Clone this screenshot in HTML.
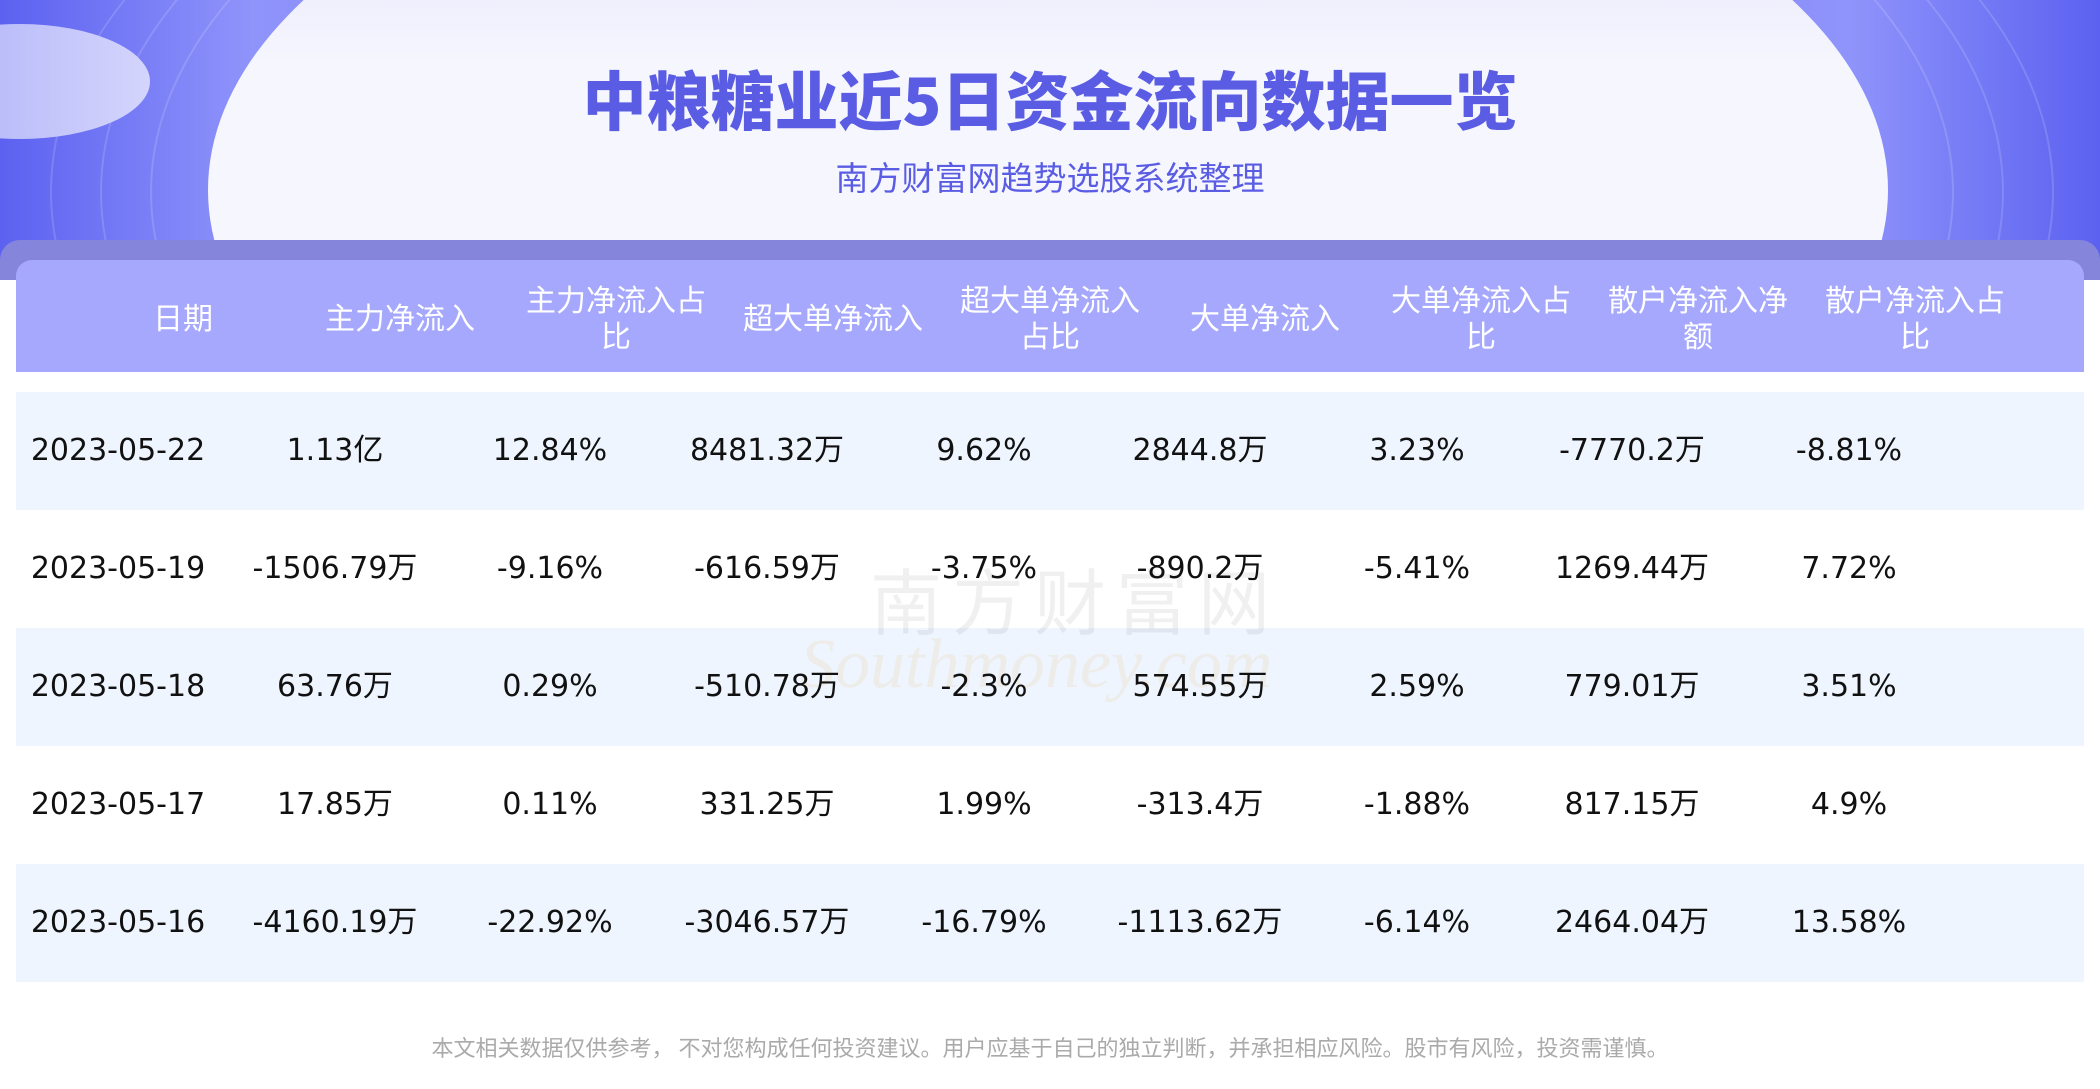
<!DOCTYPE html>
<html><head><meta charset="utf-8"><style>
body{margin:0;width:2100px;height:1089px;overflow:hidden;background:#fff;position:relative;font-family:"DejaVu Sans","Noto Sans CJK SC",sans-serif}
.top{position:absolute;left:0;top:0;width:2100px;height:262px;background:linear-gradient(90deg,#5c61f0,#8f94fb 12%,#6a6ef2 50%,#8f94fb 88%,#5c61f0);overflow:hidden}
.ring{position:absolute;border-radius:50%;border:2px solid rgba(255,255,255,.15)}
.big{position:absolute;left:208px;top:-220px;width:1680px;height:820px;border-radius:50%;background:linear-gradient(180deg,#dcdcfb,#f6f6fe 35%,#f8f8ff)}
.small{position:absolute;left:-110px;top:24px;width:260px;height:115px;border-radius:50%;background:linear-gradient(90deg,#a9acf8,#d4d5fc)}
.title{position:absolute;left:0;width:2100px;top:60px;text-align:center;font-family:"Noto Sans CJK SC",sans-serif;font-weight:900;font-size:64px;color:#5a5de4;line-height:76px}
.sub{position:absolute;left:0;width:2100px;top:155px;text-align:center;font-family:"Noto Sans CJK SC",sans-serif;font-size:33px;color:#5a5de4;line-height:42px}
.band{position:absolute;left:0;top:240px;width:2100px;height:40px;background:#8585dc;border-radius:20px 20px 0 0}
.hdr{position:absolute;left:16px;top:260px;width:2068px;height:112px;background:#a5a8fd;border-radius:16px 16px 0 0}
.h{position:absolute;width:186px;text-align:center;color:#fff;font-family:"Noto Sans CJK SC",sans-serif;font-size:30px;line-height:36px;top:278px;height:76px;display:flex;align-items:center;justify-content:center}
.row{position:absolute;left:16px;width:2068px;height:118px}
.c{position:absolute;width:240px;text-align:center;font-size:30px;color:#111;line-height:118px}
.foot{position:absolute;left:0;width:2100px;top:1031px;text-align:center;font-family:"Noto Sans CJK SC",sans-serif;font-size:22px;color:#aaa}
.wm{position:absolute;left:870px;top:545px;font-family:"Noto Sans CJK SC",sans-serif;font-size:72px;color:rgba(0,0,0,.06);letter-spacing:10px}
.wm2{position:absolute;left:800px;top:625px;font-family:"Liberation Serif",serif;font-style:italic;font-size:70px;color:rgba(230,170,80,.12)}
</style></head><body>
<div class="top">
<div class="ring" style="left:150px;top:-280px;width:1800px;height:940px"></div>
<div class="ring" style="left:100px;top:-300px;width:1900px;height:980px"></div>
<div class="ring" style="left:50px;top:-320px;width:2000px;height:1020px"></div>
<div class="big"></div><div class="small"></div>
</div>
<div class="title">中粮糖业近5日资金流向数据一览</div>
<div class="sub">南方财富网趋势选股系统整理</div>
<div class="band"></div><div class="hdr"></div>
<div class="h" style="left:90px">日期</div>
<div class="h" style="left:307px">主力净流入</div>
<div class="h" style="left:523px">主力净流入占比</div>
<div class="h" style="left:740px">超大单净流入</div>
<div class="h" style="left:957px">超大单净流入占比</div>
<div class="h" style="left:1172px">大单净流入</div>
<div class="h" style="left:1388px">大单净流入占比</div>
<div class="h" style="left:1605px">散户净流入净额</div>
<div class="h" style="left:1822px">散户净流入占比</div>
<div class="row" style="top:392px;background:#eef5fe"></div>
<div class="row" style="top:628px;background:#eef5fe"></div>
<div class="row" style="top:864px;background:#eef5fe"></div>
<div class="wm">南方财富网</div><div class="wm2">Southmoney.com</div>
<div class="foot">本文相关数据仅供参考， 不对您构成任何投资建议。用户应基于自己的独立判断，并承担相应风险。股市有风险，投资需谨慎。</div>
<div style="position:absolute;top:392px;left:0">
<div class="c" style="top:0;left:-2px">2023-05-22</div><div class="c" style="top:0;left:215px">1.13亿</div><div class="c" style="top:0;left:430px">12.84%</div><div class="c" style="top:0;left:647px">8481.32万</div><div class="c" style="top:0;left:864px">9.62%</div><div class="c" style="top:0;left:1080px">2844.8万</div><div class="c" style="top:0;left:1297px">3.23%</div><div class="c" style="top:0;left:1512px">-7770.2万</div><div class="c" style="top:0;left:1729px">-8.81%</div>
<div class="c" style="top:118px;left:-2px">2023-05-19</div><div class="c" style="top:118px;left:215px">-1506.79万</div><div class="c" style="top:118px;left:430px">-9.16%</div><div class="c" style="top:118px;left:647px">-616.59万</div><div class="c" style="top:118px;left:864px">-3.75%</div><div class="c" style="top:118px;left:1080px">-890.2万</div><div class="c" style="top:118px;left:1297px">-5.41%</div><div class="c" style="top:118px;left:1512px">1269.44万</div><div class="c" style="top:118px;left:1729px">7.72%</div>
<div class="c" style="top:236px;left:-2px">2023-05-18</div><div class="c" style="top:236px;left:215px">63.76万</div><div class="c" style="top:236px;left:430px">0.29%</div><div class="c" style="top:236px;left:647px">-510.78万</div><div class="c" style="top:236px;left:864px">-2.3%</div><div class="c" style="top:236px;left:1080px">574.55万</div><div class="c" style="top:236px;left:1297px">2.59%</div><div class="c" style="top:236px;left:1512px">779.01万</div><div class="c" style="top:236px;left:1729px">3.51%</div>
<div class="c" style="top:354px;left:-2px">2023-05-17</div><div class="c" style="top:354px;left:215px">17.85万</div><div class="c" style="top:354px;left:430px">0.11%</div><div class="c" style="top:354px;left:647px">331.25万</div><div class="c" style="top:354px;left:864px">1.99%</div><div class="c" style="top:354px;left:1080px">-313.4万</div><div class="c" style="top:354px;left:1297px">-1.88%</div><div class="c" style="top:354px;left:1512px">817.15万</div><div class="c" style="top:354px;left:1729px">4.9%</div>
<div class="c" style="top:472px;left:-2px">2023-05-16</div><div class="c" style="top:472px;left:215px">-4160.19万</div><div class="c" style="top:472px;left:430px">-22.92%</div><div class="c" style="top:472px;left:647px">-3046.57万</div><div class="c" style="top:472px;left:864px">-16.79%</div><div class="c" style="top:472px;left:1080px">-1113.62万</div><div class="c" style="top:472px;left:1297px">-6.14%</div><div class="c" style="top:472px;left:1512px">2464.04万</div><div class="c" style="top:472px;left:1729px">13.58%</div>
</div>
</body></html>
